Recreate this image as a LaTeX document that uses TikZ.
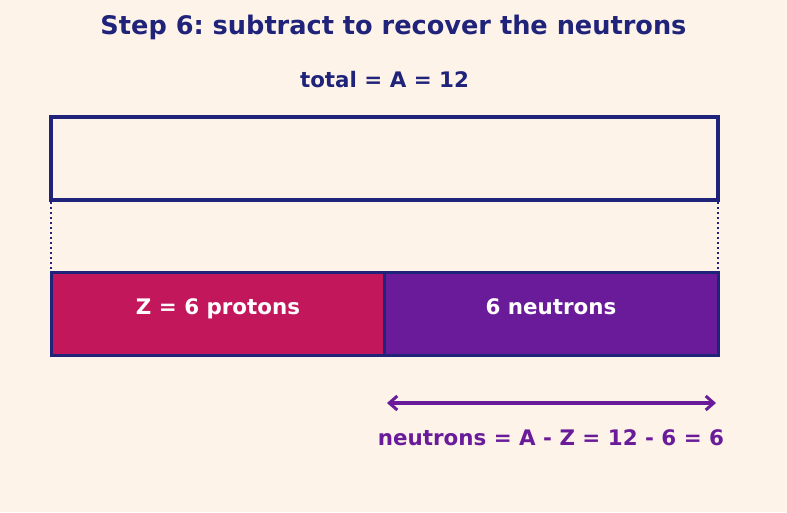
\documentclass[tikz,border=0pt]{standalone}
\usepackage{fontspec}
\setmainfont{DejaVu Sans}
\usetikzlibrary{arrows.meta}
\definecolor{bg}{HTML}{FEF3E8}
\definecolor{navy}{HTML}{1F237A}
\definecolor{prot}{HTML}{C2185B}
\definecolor{neut}{HTML}{6A1B9A}
\frenchspacing
\tikzset{
  barbox/.style={draw=navy, line width=3pt},
  lbl/.style={font=\bfseries\fontsize{21.4}{24}\selectfont, inner sep=0pt, anchor=base},
  dotline/.style={draw=navy, line width=2pt, dash pattern=on 2pt off 3pt},
}
\begin{document}
\begin{tikzpicture}[x=1pt,y=-1pt]
\fill[bg] (0,0) rectangle (787,512);
\useasboundingbox (0,0) rectangle (787,512);
\node[font=\bfseries\fontsize{25.6}{28}\selectfont, text=navy, inner sep=0pt, anchor=base] (title) at (393.5,34) {Step 6: subtract to recover the neutrons};
\node[lbl, text=navy] (total) at (384.5,87) {total = A = 12};
\draw[barbox, line width=3.5pt] (51,117) rectangle (718,200);
\coordinate (tl) at (51,202);
\coordinate (tr) at (718,202);
\coordinate (bl) at (51,270);
\coordinate (br) at (718,270);
\draw[dotline] (tl) -- (bl);
\draw[dotline] (tr) -- (br);
\node[barbox, fill=prot, minimum width=333pt, minimum height=83pt, anchor=north west, inner sep=0pt, outer sep=0pt] (p) at (51,272) {};
\node[barbox, fill=neut, minimum width=334pt, minimum height=83pt, anchor=north west, inner sep=0pt, outer sep=0pt] (n) at (384,272) {};
\node[lbl, text=white] (pl) at (218,314.5) {Z = 6 protons};
\node[lbl, text=white] (nl) at (551,314.5) {6 neutrons};
\coordinate (a1) at (387,403);
\coordinate (a2) at (716,403);
\draw[neut, line width=3.2pt, {Straight Barb[length=8pt,width=14pt,line width=3pt]}-{Straight Barb[length=8pt,width=14pt,line width=3pt]}] (a1) -- (a2);
\node[lbl, text=neut] (eq) at (551,445.5) {neutrons = A - Z = 12 - 6 = 6};
\end{tikzpicture}
\end{document}
